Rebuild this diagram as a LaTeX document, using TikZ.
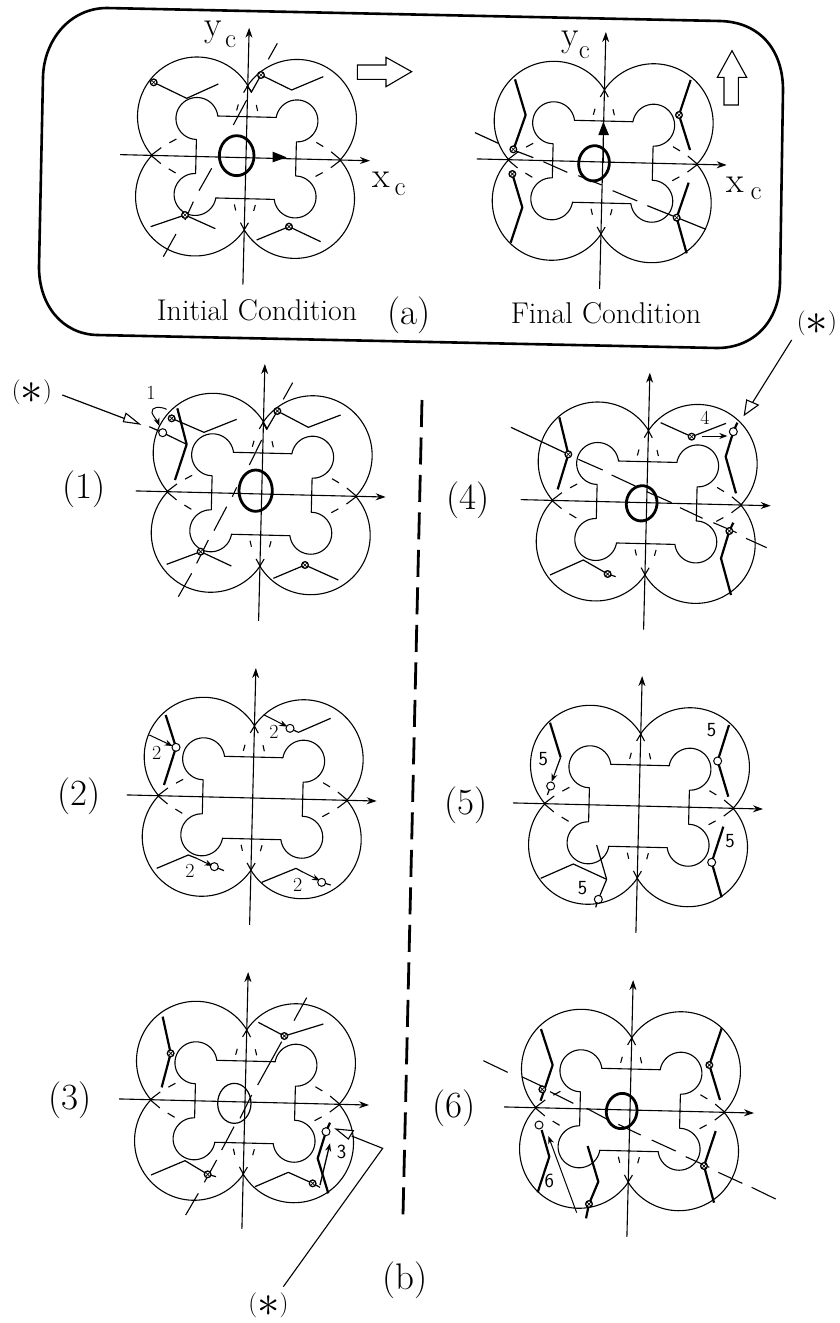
\documentclass[tikz,border=0pt]{standalone}
\usetikzlibrary{arrows.meta}
\tikzset{
  thinl/.style={line width=1.1pt,line join=round},
  legl/.style={line width=1.2pt,line join=round},
  boldl/.style={line width=2.2pt,line join=round},
  gapl/.style={line width=1.1pt},
  ovalbold/.style={line width=2.8pt},
  ovalthin/.style={line width=1.2pt},
  axisl/.style={line width=1.1pt,-{Stealth[length=10pt,width=7pt]}},
  smallarrow/.style={line width=1pt,-{Stealth[length=8pt,width=6pt]}},
  openshape/.style={line width=1.1pt,fill=white},
  tcond/.style={font=\fontsize{30}{34}\selectfont,inner sep=0pt},
  tpanel/.style={font=\fontsize{37}{42}\selectfont,inner sep=0pt},
  taxis/.style={font=\fontsize{36}{40}\selectfont,inner sep=0pt},
  tsub/.style={font=\fontsize{27}{30}\selectfont,inner sep=0pt},
  tnum/.style={font=\fontsize{20}{22}\selectfont,inner sep=0pt},
  tsans/.style={font=\fontsize{20}{22}\selectfont\sffamily,inner sep=0pt},
  tstar/.style={font=\fontsize{25}{28}\selectfont,inner sep=0pt},
}
\newcommand{\botbase}[2]{%
  \begin{scope}[shift={(#1,#2)},rotate=-1.4]
    \foreach \sx/\sy in {1/1,-1/1,1/-1,-1/-1}{%
      \begin{scope}[xscale=\sx,yscale=\sy]
        \draw[thinl] plot[domain=212.6:402.3,samples=60] ({50+59.5*cos(\x)},{-40+59.5*sin(\x)});
        \draw[thinl] (0,-41) -- (29,-41) -- plot[domain=188:439,samples=40] ({50+21*cos(\x)},{-38+21*sin(\x)}) -- (50,-17) -- (50,0);
        \draw[gapl] (0,-72)--(4,-65) (9,-53)--(10.5,-47) (70,-17)--(77,-13) (85,-8)--(95,0);
      \end{scope}
    }
    \draw[axisl] (-126,0) -- (124,0);
    \draw[axisl] (0,127) -- (0,-130);
  \end{scope}}
\newcommand{\pinm}[2]{%
  \begin{scope}[shift={(#1,#2)}]
    \draw[line width=1.3pt,fill=white] (0,0) circle [radius=10];
    \draw[line width=0.7pt] (-6,-6)--(6,6) (-6,6)--(6,-6);
  \end{scope}}
\newcommand{\openm}[2]{\draw[line width=1pt,fill=white] (#1,#2) circle [radius=12];}
\newcommand{\starl}{(\raisebox{-0.2em}{\scalebox{1.8}{$\ast$}})}
\begin{document}
\begin{tikzpicture}[x=1pt,y=-1pt]
\useasboundingbox (0,0) rectangle (839,1323);

% outer rounded frame
\draw[line width=2.6pt] (107,8) -- (720,21) .. controls (760,22) and (783,50) .. (783,90) -- (780,283)
  .. controls (779,320) and (755,348) .. (717,348) -- (97,335)
  .. controls (62,334) and (39,305) .. (39,267) -- (43,77) .. controls (44,40) and (70,8) .. (107,8) -- cycle;

% long dashed divider
\draw[line width=2.8pt,dash pattern=on 27pt off 10.5pt] (422,400) -- (403,1215);

\node[tcond] (initc) at (257,310) {Initial Condition};
\node[tcond] (finalc) at (606,313) {Final Condition};
\node[tpanel] (la) at (409,315) {(a)};
\node[tpanel] (lb) at (405,1280) {(b)};

\botbase{246}{157.7}
\botbase{602.7}{162}
\botbase{261.7}{494}
\botbase{252.7}{798}
\botbase{245}{1102}
\botbase{646.7}{502.7}
\botbase{639}{806}
\botbase{630}{1110}

% ---------- (a) left ----------
\begin{scope}[shift={(30,0)},scale=1/3]
  \draw[ovalbold] (620,467) circle [x radius=52,y radius=60];
  \draw[legl] (371,247)--(470,295)--(565,252);
  \draw[legl] (693,225)--(785,270)--(880,230);
  \draw[legl] (650,258)--(665,275)--(693,225);
  \draw[legl] (362,680)--(465,645)--(556,686);
  \draw[legl] (680,720)--(777,680)--(872,725);
  \draw[gapl] (400,770)--(438,702) (465,660)--(490,605) (507,572)--(545,505) (610,375)--(650,300) (715,178)--(742,130);
  \pinm{371}{247}\pinm{693}{225}\pinm{465}{645}\pinm{777}{680}
  \fill (728,455)--(770,472)--(728,487)--cycle;
  \draw[openshape] (982,195)--(1068,195)--(1068,172)--(1145,215)--(1068,260)--(1068,238)--(982,238)--cycle;
  \node[taxis] (ya) at (550,98) {y};
  \node[tsub] (yca) at (602,125) {c};
  \node[taxis] (xa) at (1055,540) {x};
  \node[tsub] (xca) at (1110,570) {c};
\end{scope}

% ---------- (a) right ----------
\begin{scope}[shift={(430,0)},scale=1/3]
  \draw[ovalbold,rotate around={-8:(492,490)}] (492,490) circle [x radius=46,y radius=53];
  \draw[boldl] (255,238)--(287,345)--(250,450);
  \draw[boldl] (247,522)--(277,622)--(242,728);
  \draw[boldl] (782,240)--(747,345)--(780,450);
  \draw[boldl] (776,548)--(740,653)--(770,760);
  \draw[legl] (135,398)--(205,430) (250,450)--(310,473) (652,617)--(828,688);
  \draw[gapl] (340,485)--(412,517) (445,527)--(515,555) (548,572)--(622,603);
  \pinm{250}{448}\pinm{247}{522}\pinm{747}{345}\pinm{740}{653}
  \fill (505,405)--(537,405)--(520,365)--cycle;
  \draw[line width=1.6pt] (520,490)--(520,400);
  \draw[openshape] (882,315)--(925,315)--(925,232)--(950,232)--(906,152)--(862,232)--(882,232)--cycle;
  \node[taxis] (yb) at (420,128) {y};
  \node[tsub] (ycb) at (463,158) {c};
  \node[taxis] (xb) at (915,555) {x};
  \node[tsub] (xcb) at (978,582) {c};
\end{scope}

% ---------- (1) ----------
\begin{scope}[shift={(20,350)},scale=1/3]
  \node[tpanel] (p1) at (192,418) {(1)};
  \draw[ovalbold] (707,422) circle [x radius=50,y radius=62];
  \draw[legl] (455,205)--(552,247)--(650,208);
  \draw[boldl] (472,175)--(500,283)--(465,390);
  \draw[legl] (388,230)--(428,248)--(500,283);
  \draw[legl] (772,183)--(865,232)--(962,195);
  \draw[legl] (728,215)--(740,238)--(772,183);
  \draw[legl] (440,643)--(542,605)--(634,648);
  \draw[legl] (760,685)--(855,645)--(955,690);
  \draw[gapl] (475,740)--(515,670) (530,640)--(565,570) (582,542)--(620,470) (637,440)--(650,412) (688,345)--(725,270) (790,148)--(818,98);
  \pinm{455}{205}\pinm{772}{183}\pinm{542}{605}\pinm{855}{645}
  \openm{428}{248}
  \draw[smallarrow] (440,178) .. controls (420,168) and (392,170) .. (396,188) .. controls (400,200) and (412,212) .. (418,228);
  \node[tnum] (n1) at (393,128) {1};
  \draw[line width=1.2pt] (127,135)--(312,205);
  \draw[openshape] (358,222)--(318,190)--(310,215)--cycle;
\end{scope}
\node[tstar] (s1) at (32,392) {\starl};

% ---------- (2) ----------
\begin{scope}[shift={(20,640)},scale=1/3]
  \node[tpanel] (p2) at (178,470) {(2)};
  \draw[boldl] (437,225)--(468,322)--(432,435);
  \draw[smallarrow] (388,285)--(458,318);
  \draw[legl] (810,265)--(835,277)--(932,235);
  \draw[smallarrow] (733,225)--(802,260);
  \draw[legl] (583,680)--(612,692);
  \draw[legl] (410,685)--(505,645)--(530,655);
  \draw[smallarrow] (530,655)--(578,678);
  \draw[legl] (905,727)--(932,735);
  \draw[legl] (725,727)--(828,685)--(850,697);
  \draw[smallarrow] (850,697)--(900,722);
  \openm{468}{322}\openm{810}{265}\openm{583}{680}\openm{905}{727}
  \node[tnum] (n2a) at (410,340) {2};
  \node[tnum] (n2b) at (762,275) {2};
  \node[tnum] (n2c) at (510,692) {2};
  \node[tnum] (n2d) at (833,735) {2};
\end{scope}

% ---------- (3) ----------
\begin{scope}[shift={(20,930)},scale=1/3]
  \node[tpanel] (p3) at (150,510) {(3)};
  \draw[ovalthin] (643,520) circle [x radius=50,y radius=60];
  \draw[boldl] (428,260)--(452,370)--(425,472);
  \draw[legl] (715,277)--(793,318)--(910,282);
  \draw[legl] (393,735)--(495,692)--(563,733)--(588,740);
  \draw[legl] (705,770)--(805,727)--(878,760)--(900,772);
  \draw[boldl] (930,578)--(918,605)--(893,685)--(925,790);
  \draw[gapl] (497,855)--(535,790) (553,757)--(590,690) (605,660)--(642,590) (660,565)--(695,495) (713,465)--(785,335) (822,272)--(860,203);
  \pinm{452}{370}\pinm{793}{318}\pinm{563}{733}\pinm{878}{760}
  \openm{918}{605}
  \draw[smallarrow,line width=1.3pt] (900,765)--(930,640);
  \node[tsans] (n3) at (965,667) {3};
  \draw[line width=1.1pt] (790,1070)--(1088,655)--(995,618);
  \draw[openshape] (948,597)--(1000,602)--(985,627)--cycle;
  \node[tstar] (s3) at (745,1125) {\starl};
\end{scope}

% ---------- (4) ----------
\begin{scope}[shift={(430,340)},scale=1/3]
  \node[tpanel] (p4) at (115,482) {(4)};
  \draw[ovalbold,rotate around={-8:(635,490)}] (635,490) circle [x radius=46,y radius=53];
  \draw[boldl] (388,232)--(415,343)--(383,448);
  \draw[legl] (243,262)--(415,343);
  \draw[gapl] (445,358)--(518,390) (545,405)--(620,440) (650,455)--(725,488) (750,503)--(818,535) (850,548)--(920,578) (948,595)--(1010,623);
  \draw[legl] (692,248)--(785,290)--(888,250);
  \draw[smallarrow] (815,288)--(892,288);
  \draw[boldl] (922,248)--(910,275)--(887,350)--(918,460);
  \draw[boldl] (910,548)--(898,573)--(873,655)--(903,765);
  \draw[legl] (360,705)--(460,660)--(533,702)--(557,710);
  \pinm{415}{343}\pinm{785}{290}\pinm{898}{573}\pinm{533}{702}
  \openm{910}{275}
  \node[tnum] (n4) at (825,232) {4};
  \draw[line width=1.1pt] (1085,0)--(968,187);
  \draw[openshape] (943,225)--(950,180)--(985,195)--cycle;
\end{scope}
\node[tstar] (s4) at (817,323) {\starl};

% ---------- (5) ----------
\begin{scope}[shift={(430,640)},scale=1/3]
  \node[tpanel] (p5) at (107,495) {(5)};
  \draw[boldl] (360,248)--(392,352);
  \draw[legl] (392,352)--(375,398);
  \draw[smallarrow] (375,398)--(365,425);
  \draw[legl] (362,438)--(352,465);
  \draw[boldl] (897,255)--(863,363)--(895,470);
  \draw[boldl] (880,560)--(845,667)--(875,772);
  \draw[legl] (332,715)--(430,672)--(530,718);
  \draw[legl] (500,615)--(530,718)--(505,778)--(497,802);
  \openm{362}{438}\openm{863}{363}\openm{845}{667}\openm{505}{778}
  \node[tsans] (n5a) at (340,358) {5};
  \node[tsans] (n5b) at (845,270) {5};
  \node[tsans] (n5c) at (900,603) {5};
  \node[tsans] (n5d) at (458,745) {5};
\end{scope}

% ---------- (6) ----------
\begin{scope}[shift={(430,930)},scale=1/3]
  \node[tpanel] (p6) at (72,535) {(6)};
  \draw[ovalbold,rotate around={-8:(575,543)}] (575,543) circle [x radius=46,y radius=53];
  \draw[boldl] (333,297)--(368,405)--(332,512);
  \draw[boldl] (335,600)--(358,680)--(323,787);
  \draw[boldl] (875,295)--(838,405)--(870,510);
  \draw[boldl] (857,603)--(822,708)--(852,818);
  \draw[boldl] (473,648)--(505,755)--(477,822)--(468,865);
  \draw[gapl] (160,392)--(233,427) (275,440)--(345,473) (360,485)--(430,520) (470,535)--(532,568) (565,583)--(632,615) (665,630)--(737,663) (767,680)--(838,712) (865,727)--(937,760) (965,772)--(1037,807);
  \pinm{337}{478}\pinm{838}{405}\pinm{822}{708}\pinm{477}{822}
  \openm{327}{585}
  \draw[smallarrow] (440,848)--(355,618);
  \node[tsans] (n6) at (358,752) {6};
\end{scope}
\end{tikzpicture}
\end{document}
